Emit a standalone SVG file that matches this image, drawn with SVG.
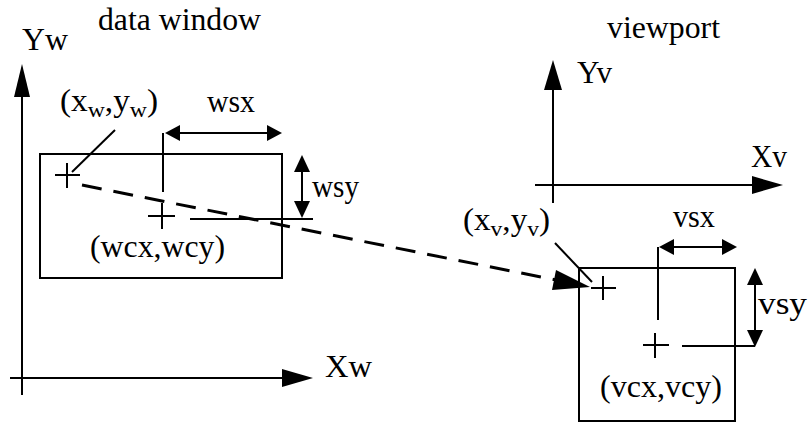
<svg xmlns="http://www.w3.org/2000/svg" width="808" height="423" viewBox="0 0 808 423">
<style>
text{font-family:"Liberation Serif","Times New Roman",serif;font-size:31px;fill:#000}
.sub{font-size:22px}
.ln{stroke:#000;stroke-width:2;fill:none}
.dash{stroke:#000;stroke-width:3;fill:none;stroke-dasharray:20 12}
.hd{fill:#000;stroke:none}
</style>
<rect width="808" height="423" fill="#fff"/>
<g id="window-axes">
<line class="ln" x1="22" y1="395" x2="22" y2="92"/>
<polygon class="hd" points="22,64 14,97 30,97"/>
<line class="ln" x1="10" y1="378" x2="285" y2="378"/>
<polygon class="hd" points="313,378 282,369 282,387"/>
<text x="22" y="50" textLength="46" lengthAdjust="spacingAndGlyphs">Yw</text>
<text x="325" y="377" textLength="47" lengthAdjust="spacingAndGlyphs">Xw</text>
<text x="98" y="30" textLength="163" lengthAdjust="spacingAndGlyphs">data window</text>
</g>
<g id="data-window">
<rect class="ln" x="40" y="154" width="242" height="124"/>
<path class="ln" d="M55 175H80M67 163V188"/>
<path class="ln" d="M148 216H175M162 203V229"/>
<path class="ln" d="M163 133V192M190 219H313"/>
<text x="60" y="111" textLength="98" lengthAdjust="spacingAndGlyphs">(x<tspan class="sub" dy="6">w</tspan><tspan dy="-6">,y</tspan><tspan class="sub" dy="6">w</tspan><tspan dy="-6">)</tspan></text>
<text x="207" y="112" textLength="48" lengthAdjust="spacingAndGlyphs">wsx</text>
<text x="312" y="197" textLength="47" lengthAdjust="spacingAndGlyphs">wsy</text>
<text x="90" y="257" textLength="135" lengthAdjust="spacingAndGlyphs">(wcx,wcy)</text>
</g>
<g id="viewport-axes">
<line class="ln" x1="553" y1="203" x2="553" y2="88"/>
<polygon class="hd" points="553,60 544,90 562,90"/>
<line class="ln" x1="535" y1="185" x2="754" y2="185"/>
<polygon class="hd" points="783,185 752,176 752,194"/>
<text x="607" y="38" textLength="113" lengthAdjust="spacingAndGlyphs">viewport</text>
<text x="577" y="83" textLength="35" lengthAdjust="spacingAndGlyphs">Yv</text>
<text x="751" y="167" textLength="36" lengthAdjust="spacingAndGlyphs">Xv</text>
</g>
<g id="viewport">
<rect class="ln" x="579" y="268" width="156" height="153"/>
<path class="ln" d="M591 288H616M603 276V300"/>
<path class="ln" d="M643 345H669M655 333V358"/>
<path class="ln" d="M658 247V320M682 346H755"/>
<text x="463" y="230" textLength="87" lengthAdjust="spacingAndGlyphs">(x<tspan class="sub" dy="6">v</tspan><tspan dy="-6">,y</tspan><tspan class="sub" dy="6">v</tspan><tspan dy="-6">)</tspan></text>
<text x="673" y="227" textLength="42" lengthAdjust="spacingAndGlyphs">vsx</text>
<text x="758" y="314" textLength="49" lengthAdjust="spacingAndGlyphs">vsy</text>
<text x="600" y="397" textLength="122" lengthAdjust="spacingAndGlyphs">(vcx,vcy)</text>
</g>
<g id="connectors">
<line class="ln" x1="115" y1="130" x2="72" y2="172"/>
<line class="ln" x1="555" y1="243" x2="592" y2="282"/>
<line class="ln" x1="178" y1="133" x2="269" y2="133"/>
<polygon class="hd" points="165,133 180,125 180,141"/>
<polygon class="hd" points="282,133 267,125 267,141"/>
<line class="ln" x1="302" y1="170" x2="302" y2="204"/>
<polygon class="hd" points="302,155 294,172 310,172"/>
<polygon class="hd" points="302,218 294,201 310,201"/>
<line class="ln" x1="672" y1="247" x2="724" y2="247"/>
<polygon class="hd" points="659,247 674,239 674,255"/>
<polygon class="hd" points="737,247 722,239 722,255"/>
<line class="ln" x1="755" y1="282" x2="755" y2="333"/>
<polygon class="hd" points="755,268 747,285 763,285"/>
<polygon class="hd" points="755,347 747,330 763,330"/>
<line class="dash" x1="82" y1="185" x2="556" y2="280"/>
<polygon class="hd" points="590,287 552,290 556,270"/>
</g>
</svg>
